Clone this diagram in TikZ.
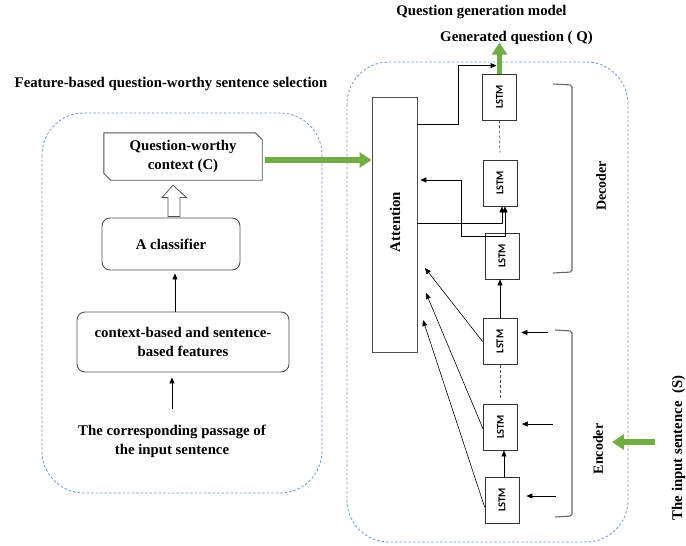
\documentclass[tikz,border=0pt]{standalone}
\usepackage{fontspec}
\setmainfont{Liberation Serif}
\newfontfamily\lstmfont{Carlito}
\usetikzlibrary{arrows.meta,calc}
\definecolor{dashblue}{RGB}{105,150,220}
\definecolor{qgreen}{RGB}{112,173,71}
\definecolor{boxgray}{RGB}{80,80,80}
\begin{document}
\begin{tikzpicture}[x=1pt,y=-1pt,
  lbl/.style={font=\fontsize{14.8}{19}\selectfont\bfseries, align=center, inner sep=0pt},
  region/.style={draw=dashblue, dashed, dash pattern=on 2.5pt off 2pt, line width=0.8pt, rounded corners=42pt},
  rbox/.style={draw=boxgray, line width=0.9pt, rounded corners=8pt, align=center, font=\fontsize{14.8}{19}\selectfont\bfseries},
  lstm/.style={draw=black!80, line width=0.8pt, minimum width=34pt, minimum height=46pt, inner sep=0pt},
  lstmtxt/.style={font=\lstmfont\fontsize{10.5}{12}\selectfont\bfseries, rotate=90},
  arr/.style={-{Triangle[length=6pt,width=5pt]}, line width=0.6pt},
  garr/.style={draw=qgreen, line width=5.5pt, -{Triangle[length=12pt,width=15pt]}},
  brk/.style={draw=black!60, line width=1.1pt, rounded corners=2pt}
]
\useasboundingbox (0,0) rectangle (686,546);

% ---------- left part ----------
\node[lbl] (t1) at (171,84) {Feature-based question-worthy sentence selection};
\draw[region] (42,113) rectangle (322,493);

\node[lbl, minimum width=158pt, minimum height=47pt] (ctx) at (183,156.5) {Question-worthy\\context (C)};
\draw[draw=boxgray, line width=0.9pt] (ctx.north west) -- ($(ctx.north east)+(-7,0)$) -- ($(ctx.north east)+(0,7)$)
  -- (ctx.south east) -- ($(ctx.south west)+(7,0)$) -- ($(ctx.south west)+(0,-7)$) -- cycle;

\node[rbox, minimum width=138pt, minimum height=52pt] (cls) at (171,244) {A classifier};
\node[rbox, minimum width=212pt, minimum height=60pt] (feat) at (183,342) {context-based and sentence-\\based features};
\node[lbl] (pas) at (172,441) {The corresponding passage of\\the input sentence};

% hollow block arrow classifier -> context
\draw[draw=boxgray, line width=0.8pt, fill=white]
  ($(cls.north)+(-3,-1)$) -- ++(0,-19) -- ++(-6,0) -- ($(ctx.south)+(-10,5)$)
  -- ($(cls.north)+(15.5,-20)$) -- ++(-6.5,0) -- ++(0,19) -- cycle;

\draw[arr] ([xshift=4pt]cls.south |- feat.north) -- ([xshift=4pt,yshift=-3pt]cls.south);
\draw[arr, shorten >=5pt] ([yshift=16pt]pas.north) -- (pas.north |- feat.south);

% ---------- right part ----------
\node[lbl] (t2) at (481.5,12) {Question generation model};
\node[lbl] (gen) at (516.5,38) {Generated question ( Q)};
\draw[region] (347,62) rectangle (628,542);

\node[draw=boxgray, line width=0.9pt, minimum width=45pt, minimum height=255pt, inner sep=0pt] (att) at (394.5,224.5) {};
\node[lbl, rotate=90] (atttxt) at (395,222) {Attention};

\node[lstm] (L1) at (499.5,97) {};
\node[lstm] (L2) at (500,183) {};
\node[lstm] (L3) at (502,256) {};
\node[lstm] (L4) at (500,341.5) {};
\node[lstm] (L5) at (500.5,427) {};
\node[lstm] (L6) at (502,500) {};
\foreach \n in {L1,L2,L3,L4,L5,L6} \node[lstmtxt] at (\n) {LSTM};

% decoder chain
\draw[black!70, dashed, dash pattern=on 3pt off 2pt, line width=0.7pt, shorten >=7pt] (L1.south) -- (L2.north);
\draw[black!70, dashed, dash pattern=on 3pt off 2pt, line width=0.7pt, shorten >=6pt] (L4.south) -- (L5.north -| L4.south);
\draw[arr] (L4.north) -- (L3.south -| L4.north);
\draw[arr] ([xshift=2pt]L6.north) -- ([xshift=3.5pt]L5.south);

% green output arrow
\draw[garr] (L1.north) -- ++(0,-31);

% attention -> top
\draw[arr] ([yshift=-28pt]att.north east) -- ++(41,0) |- ([xshift=-3pt,yshift=8pt]L1.north);
% feedback loop
\draw[{Triangle[length=6pt,width=5pt]}-{Triangle[length=6pt,width=5pt]}, line width=0.6pt, shorten >=3pt]
  ([xshift=5pt]L2.south) -- ++(0,30) -| ([xshift=44pt,yshift=44.5pt]att.east) -- ([yshift=44.5pt]att.east);
% attention -> L2
\draw[arr] ([yshift=1.5pt]att.east) -| ([xshift=2pt]L2.south);

% encoder -> attention
\coordinate (a1) at (425,268);
\coordinate (a2) at (426,293);
\coordinate (a3) at (423,320);
\draw[arr] (L4.west) -- (a1);
\draw[arr] ([yshift=-2pt]L5.west) -- (a2);
\draw[arr] ([yshift=-7pt]L6.west) -- (a3);

% encoder inputs
\coordinate (i4) at (548,332.5);
\coordinate (i5) at (553,424);
\coordinate (i6) at (556,496);
\draw[arr, shorten >=4pt] (i4) -- (i4 -| L4.east);
\draw[arr, shorten >=4pt] (i5) -- (i5 -| L5.east);
\draw[arr, shorten >=7pt] (i6) -- (i6 -| L6.east);

% brackets
\draw[brk] (553,84) -- (572,85) -- (572,272) -- (553,273);
\draw[brk] (555,330) -- (572,331) -- (572,516) -- (555,517);
\node[lbl, rotate=90, font=\fontsize{14}{16}\selectfont\bfseries] (dec) at (601,186) {Decoder};
\node[lbl, rotate=90, font=\fontsize{14}{16}\selectfont\bfseries] (enc) at (598,449) {Encoder};

% input sentence
\node[lbl, rotate=90] (inp) at (678.5,448) {The input sentence \ (S)};
\coordinate (gs) at (655,442);
\draw[garr] (gs) -- ++(-43,0);

% context -> attention
\draw[garr] ([xshift=3pt,yshift=-3.5pt]ctx.east) -- ([yshift=-3.5pt]ctx.east -| att.west);
\end{tikzpicture}
\end{document}
